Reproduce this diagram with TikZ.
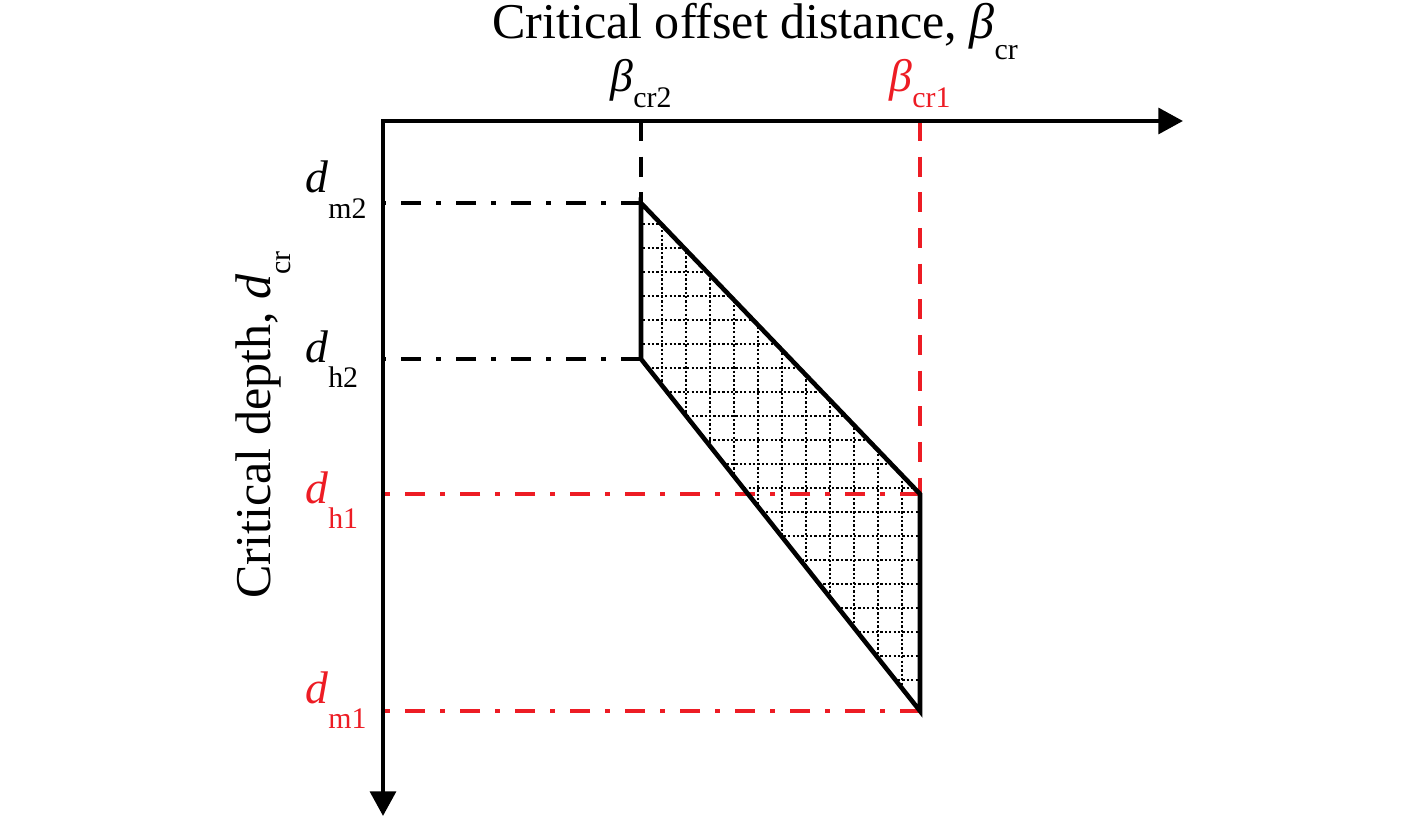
\documentclass[tikz,border=0pt]{standalone}
\usepackage{fontspec}
\setmainfont{Liberation Serif}
\usetikzlibrary{arrows.meta}
\definecolor{r1}{RGB}{237,28,36}

\newcommand{\vsym}[3]{\textit{#1}\raisebox{#3}{\fontsize{17}{17}\selectfont #2}}

\begin{document}
\begin{tikzpicture}[
    x=0.02cm, y=-0.02cm,
    ax/.style={
        line width=2.6pt,
        {Triangle[length=14pt,width=14.5pt]}-{Triangle[length=14pt,width=14.5pt]}
    },
    p/.style={line width=2.6pt, line join=miter},
    d/.style={line width=2.6pt, dash pattern=on 11.3pt off 9pt},
    dd/.style={line width=2.6pt, dash pattern=on 11.5pt off 8.5pt on 2.8pt off 8.5pt},
    h/.style={line width=1.4pt, dash pattern=on 1.3pt off 1.2pt},
    t/.style={inner sep=0pt, font=\fontsize{28.5}{32}\selectfont},
    lb/.style={inner sep=0pt, font=\fontsize{26}{30}\selectfont}
]
\useasboundingbox (0,0) rectangle (1419,827);

\coordinate (O) at (383,121);
\coordinate (xe) at (1183,121);
\coordinate (ye) at (383,816);
\coordinate (A) at (641,203);
\coordinate (B) at (641,359);
\coordinate (C) at (920,494);
\coordinate (D) at (920,711);

% hatched zone
\begin{scope}
\clip (A) -- (C) -- (D) -- (B) -- cycle;
\foreach \i in {0,...,10}
    \draw [h] (662+24*\i,195) -- (662+24*\i,720);
\foreach \j in {0,...,19}
    \draw [h] (630,224+24*\j) -- (930,224+24*\j);
\end{scope}

% guide lines
\draw [d] (O -| A) -- (A);
\draw [d, r1] (O -| C) -- (C);
\draw [dd] (A) -- (O |- A);
\draw [dd] (B) -- (O |- B);
\draw [dd, r1] (C) -- (O |- C);
\draw [dd, r1] (D) -- (O |- D);

\draw [p] (A) -- (C) -- (D) -- (B) -- cycle;

% axes
\draw [ax] (xe) -- (O) -- (ye);

\node [t, anchor=base] (tx) at (755,39)
    {Critical offset distance, \vsym{β}{cr}{-0.4em}};
\node [t, anchor=base, rotate=90] (ty) at (270,425)
    {Critical depth, \vsym{d}{cr}{-0.4em}};

\node [lb, anchor=base] (b2) at (641,92) {\vsym{β}{cr2}{-0.35em}};
\node [lb, anchor=base, text=r1] (b1) at (920,92) {\vsym{β}{cr1}{-0.35em}};
\node [lb, anchor=base west] (dm2) at (305,193) {\vsym{d}{m2}{-0.55em}};
\node [lb, anchor=base west] (dh2) at (305,362) {\vsym{d}{h2}{-0.55em}};
\node [lb, anchor=base west, text=r1] (dh1) at (305,503) {\vsym{d}{h1}{-0.55em}};
\node [lb, anchor=base west, text=r1] (dm1) at (305,703) {\vsym{d}{m1}{-0.55em}};

\end{tikzpicture}
\end{document}
